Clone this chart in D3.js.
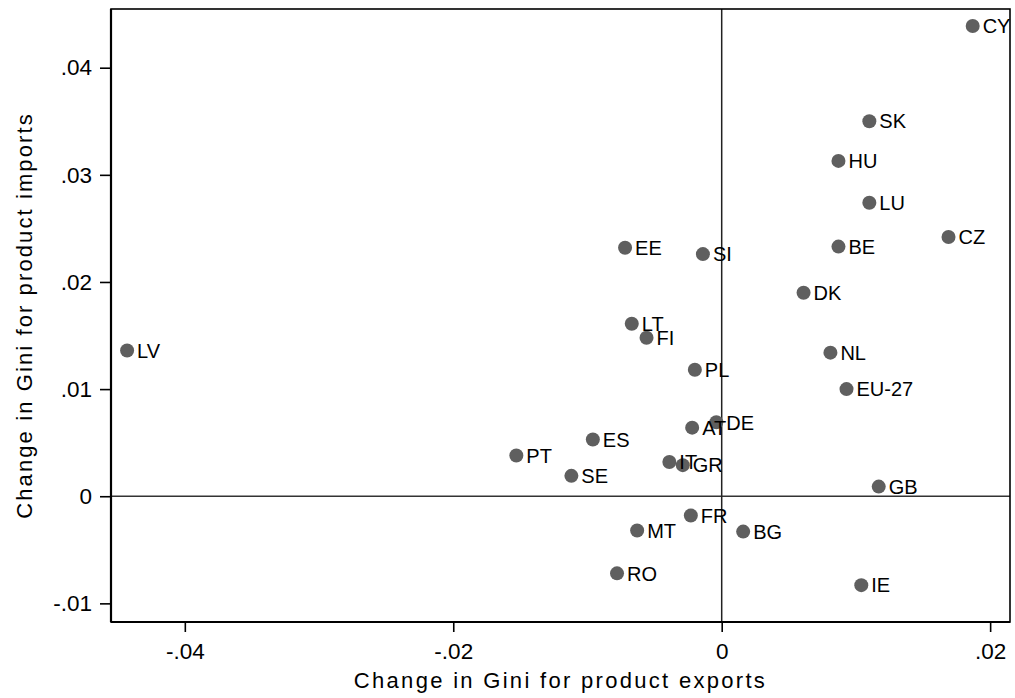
<!DOCTYPE html>
<html>
<head>
<meta charset="utf-8">
<script src="https://cdn.jsdelivr.net/npm/d3@7"></script>
<style>
  body { margin: 0; background: #fff; }
  svg { display: block; font-family: "Liberation Sans", Arial, sans-serif; }
</style>
</head>
<body>
<svg id="chart" width="1015" height="698"></svg>
<script>
const countries = ["CY","SK","HU","LU","BE","CZ","DK","EE","SI","LT","FI","LV","PL","NL","EU-27","DE","AT","ES","PT","SE","IT","GR","GB","FR","MT","BG","RO","IE"];
const exportsChange = [0.0187,0.0110,0.0087,0.0110,0.0087,0.0169,0.0061,-0.0072,-0.0014,-0.0067,-0.0056,-0.0443,-0.0020,0.0081,0.0093,-0.0004,-0.0022,-0.0096,-0.0153,-0.0112,-0.0039,-0.0029,0.0117,-0.0023,-0.0063,0.0016,-0.0078,0.0104];
const importsChange = [0.0439,0.0350,0.0313,0.0274,0.0233,0.0242,0.0190,0.0232,0.0226,0.0161,0.0148,0.0136,0.0118,0.0134,0.0100,0.0069,0.0064,0.0053,0.0038,0.0019,0.0032,0.0029,0.0009,-0.0018,-0.0032,-0.0033,-0.0072,-0.0083];
const xTicks = [-0.04,-0.02,0,0.02];
const yTicks = [-0.01,0,0.01,0.02,0.03,0.04];
const fmt = v => v === 0 ? "0" : (v < 0 ? "-" : "") + String(Math.abs(v)).replace(/^0/, "");

const svg = d3.select("#chart");
const L = 111, R = 1010, T = 9, B = 622;
const x = d3.scaleLinear().domain([-0.0455, 0.02148]).range([L, R]);
const y = d3.scaleLinear().domain([-0.01174, 0.04548]).range([B, T]);

// zero reference lines
svg.append("line").attr("x1", L).attr("x2", R).attr("y1", y(0)).attr("y2", y(0))
  .attr("stroke", "#333").attr("stroke-width", 1.5);
svg.append("line").attr("x1", x(0)).attr("x2", x(0)).attr("y1", T).attr("y2", B)
  .attr("stroke", "#222").attr("stroke-width", 1.5);

// plot frame
svg.append("rect").attr("x", L).attr("y", T).attr("width", R - L).attr("height", B - T)
  .attr("fill", "none").attr("stroke", "#000").attr("stroke-width", 1.6);

// axes
const xAxis = d3.axisBottom(x).tickValues(xTicks).tickFormat(fmt).tickSize(10).tickSizeOuter(0);
const gx = svg.append("g").attr("transform", `translate(0,${B})`).call(xAxis);
gx.select(".domain").attr("stroke-width", 2.2).attr("d", `M${L},0H${R}`);
gx.selectAll(".tick line").attr("stroke-width", 1.6);
gx.selectAll(".tick text").attr("font-size", 22.5).attr("fill", "#000").attr("dy", "1.08em").attr("font-family", "Liberation Sans, Arial, sans-serif");

const yAxis = d3.axisLeft(y).tickValues(yTicks).tickFormat(fmt).tickSize(11).tickSizeOuter(0);
const gy = svg.append("g").attr("transform", `translate(${L},0)`).call(yAxis);
gy.select(".domain").attr("stroke-width", 2.2).attr("d", `M0,${T}V${B}`);
gy.selectAll(".tick line").attr("stroke-width", 1.6);
gy.selectAll(".tick text").attr("font-size", 22.5).attr("fill", "#000").attr("x", -19).attr("font-family", "Liberation Sans, Arial, sans-serif");

// titles
svg.append("text").attr("x", (L + R) / 2).attr("y", 688).attr("text-anchor", "middle")
  .attr("font-size", 22).attr("letter-spacing", 2.3).text("Change in Gini for product exports");
svg.append("text").attr("transform", `translate(32,${(T + B) / 2}) rotate(-90)`).attr("text-anchor", "middle")
  .attr("font-size", 22).attr("letter-spacing", 2.1).text("Change in Gini for product imports");

// points
const data = countries.map((c, i) => ({ c, ex: exportsChange[i], im: importsChange[i] }));
const g = svg.append("g");
g.selectAll("circle").data(data).join("circle")
  .attr("cx", d => x(d.ex)).attr("cy", d => y(d.im)).attr("r", 7).attr("fill", "#5f5f5f");
g.selectAll("text").data(data).join("text")
  .attr("x", d => x(d.ex) + 10).attr("y", d => y(d.im)).attr("dy", "0.36em")
  .attr("font-size", 20).attr("fill", "#000").text(d => d.c);
</script>
</body>
</html>
